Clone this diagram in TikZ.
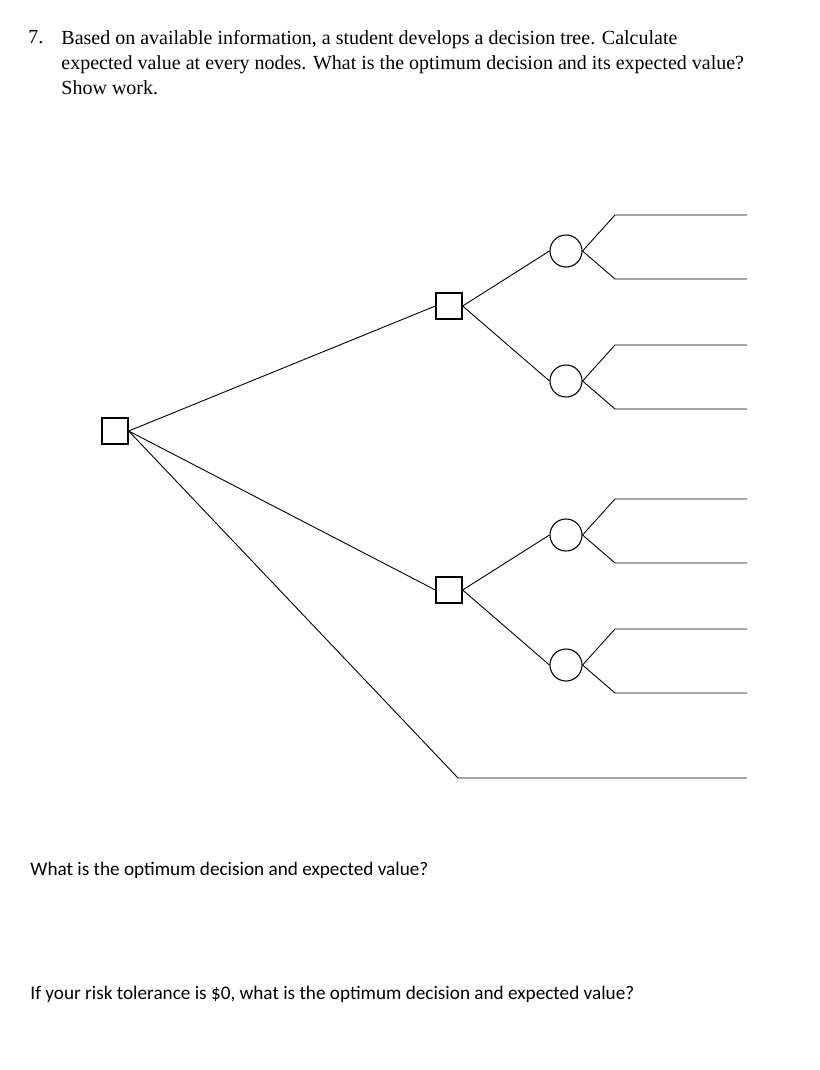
\documentclass[tikz,border=0pt]{standalone}
\usepackage{fontspec}
\setmainfont{Liberation Serif}
\newfontfamily\calib{Carlito}
\begin{document}
\begin{tikzpicture}[x=1pt,y=-1pt,
  dec/.style={draw,line width=1.3pt,minimum size=26pt,inner sep=0pt},
  chc/.style={draw,line width=1.1pt,circle,minimum size=32pt,inner sep=0pt},
  every path/.style={line width=0.9pt}]
\useasboundingbox (0,0) rectangle (819,1070);
\node[anchor=north west,inner sep=0pt,align=left,font=\fontsize{20}{25}\selectfont] (q) at (61,30)
 {Based on available information, a student develops a decision tree. Calculate\\
  expected value at every nodes. What is the optimum decision and its expected value?\\
  Show work.};
\node[anchor=north west,inner sep=0pt,font=\fontsize{20}{25}\selectfont] (n7) at (28,30) {7.};
\node[dec] (r) at (115,431) {};
\node[dec] (u) at (449,306) {};
\node[dec] (l) at (449,590) {};
\node[chc] (c1) at (566,251) {};
\node[chc] (c2) at (566,381) {};
\node[chc] (c3) at (566,535) {};
\node[chc] (c4) at (566,665) {};
\draw (r.east) -- (u.west);
\draw (r.east) -- (l.west);
\coordinate (b0) at (458,778); \coordinate (e0) at (747,778);
\draw (r.east) -- (b0) -- (e0);
\foreach \s/\a/\b in {u/c1/c2,l/c3/c4}{
  \draw (\s.east) -- (\a.west);
  \draw (\s.east) -- (\b.west);}
\foreach \c/\y in {c1/251,c2/381,c3/535,c4/665}{
  \coordinate (t\c) at (615,\y-36); \coordinate (tt\c) at (747,\y-36);
  \coordinate (d\c) at (615,\y+28); \coordinate (dd\c) at (747,\y+28);
  \draw (\c.east) -- (t\c) -- (tt\c);
  \draw (\c.east) -- (d\c) -- (dd\c);}
\node[anchor=base west,inner sep=0pt,font=\calib\fontsize{19.2}{22}\selectfont] (a1) at (30,875) {What is the optimum decision and expected value?};
\node[anchor=base west,inner sep=0pt,font=\calib\fontsize{19.2}{22}\selectfont] (a2) at (30,999) {If your risk tolerance is \$0, what is the optimum decision and expected value?};
\end{tikzpicture}
\end{document}
